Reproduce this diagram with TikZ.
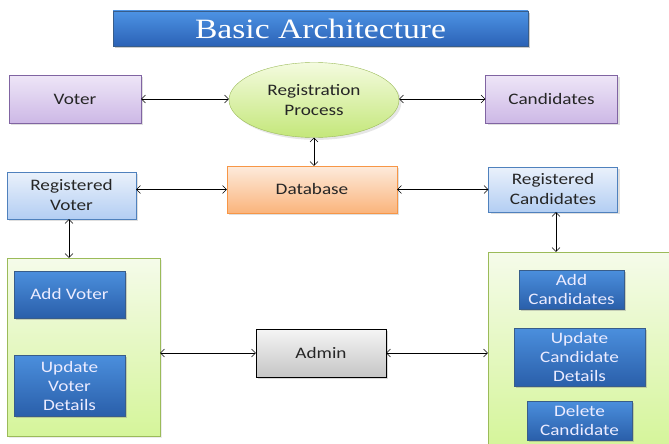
\documentclass[tikz,border=0pt]{standalone}
\usepackage{fontspec}
\setmainfont{Carlito}[FakeStretch=1.2]
\newfontfamily\titlefont{Liberation Serif}[FakeStretch=1.2]
\usetikzlibrary{arrows.meta,shapes.geometric,shadows}
\definecolor{pubord}{HTML}{8064A2}
\definecolor{putop}{HTML}{EEE6F7}
\definecolor{pubot}{HTML}{CDB8E6}
\definecolor{grbord}{HTML}{9BBB59}
\definecolor{eltop}{HTML}{F4FBDF}
\definecolor{elbot}{HTML}{C4E77A}
\definecolor{orbord}{HTML}{F79646}
\definecolor{ortop}{HTML}{FDEBDC}
\definecolor{orbot}{HTML}{FAB47C}
\definecolor{lbbord}{HTML}{4F81BD}
\definecolor{lbtop}{HTML}{EAF1FB}
\definecolor{lbbot}{HTML}{B3CEF3}
\definecolor{gptop}{HTML}{F5FBEA}
\definecolor{gpbot}{HTML}{D5F59A}
\definecolor{dbbord}{HTML}{385D8A}
\definecolor{dbtop}{HTML}{4B8FDD}
\definecolor{dbbot}{HTML}{2A5FAA}
\definecolor{titop}{HTML}{4D93E4}
\definecolor{tibot}{HTML}{2B62B6}
\tikzset{
  px/.style={x=1pt,y=-1pt},
  base/.style={font=\fontsize{16}{20}\selectfont, text=black!85, align=center, inner sep=0pt, draw},
  purple/.style={base, draw=pubord, top color=putop, bottom color=pubot, drop shadow={opacity=0.25}},
  lblue/.style={base, draw=lbbord, top color=lbtop, bottom color=lbbot, drop shadow={opacity=0.25}},
  orangebox/.style={base, draw=orbord, top color=ortop, bottom color=orbot, drop shadow={opacity=0.25}},
  graybox/.style={base, draw=black, top color=gray!8, bottom color=gray!45, drop shadow={opacity=0.3}},
  greenpanel/.style={base, draw=grbord, top color=gptop, bottom color=gpbot, drop shadow={opacity=0.15}},
  dblue/.style={base, draw=dbbord, top color=dbtop, bottom color=dbbot, text=white!92!blue, drop shadow={opacity=0.35}, font=\fontsize{16}{19}\selectfont},
  conn/.style={{Straight Barb[length=4pt,width=8pt]}-{Straight Barb[length=4pt,width=8pt]}, thin},
}
\begin{document}
\begin{tikzpicture}[px]
\useasboundingbox (0,0) rectangle (669,444);
% title
\node[base, draw=dbbord, top color=titop, bottom color=tibot, minimum width=415pt, minimum height=35pt, drop shadow={opacity=0.4}, text=white, font=\titlefont\fontsize{28}{30}\selectfont] (title) at (320.5,28.5) {Basic Architecture};
% row 1
\node[purple, minimum width=132pt, minimum height=48pt] (voter) at (75,99) {Voter};
\node[ellipse, base, draw=grbord, top color=eltop, bottom color=elbot, minimum width=170pt, minimum height=75pt, drop shadow={opacity=0.2}] (reg) at (314,100) {Registration\\Process};
\node[purple, minimum width=132pt, minimum height=48pt] (cand) at (551.5,99) {Candidates};
% row 2
\node[orangebox, minimum width=170pt, minimum height=47pt] (db) at (312,189.5) {Database};
\node[lblue, minimum width=129pt, minimum height=47pt] (rv) at (71.5,195.5) {Registered\\Voter};
\node[lblue, minimum width=129pt, minimum height=45pt] (rc) at (553,189.5) {Registered\\Candidates};
% panels
\node[greenpanel, minimum width=153pt, minimum height=178pt] (lp) at (83.5,347) {};
\node[greenpanel, minimum width=190pt, minimum height=194pt] (rp) at (583,349) {};
\node[dblue, minimum width=111pt, minimum height=47pt] (addv) at (69.5,294.5) {Add Voter};
\node[dblue, minimum width=111pt, minimum height=61pt] (updv) at (69.5,385.5) {Update\\Voter\\Details};
\node[dblue, minimum width=105pt, minimum height=39pt] (addc) at (571.5,289.5) {Add\\Candidates};
\node[dblue, minimum width=131pt, minimum height=58pt] (updc) at (579.5,357) {Update\\Candidate\\Details};
\node[dblue, minimum width=105pt, minimum height=39pt] (delc) at (579.5,420.5) {Delete\\Candidate};
\node[graybox, minimum width=130pt, minimum height=48pt] (admin) at (321,353) {Admin};
% connectors
\draw[conn] (voter.east) -- (reg.west |- voter.east);
\draw[conn] (reg.east |- cand.west) -- (cand.west);
\draw[conn] (reg.south) -- (db.north -| reg.south);
\draw[conn] (rv.east |- db.west) -- (db.west);
\draw[conn] (db.east) -- (rc.west |- db.east);
\draw[conn] (rv.south -| 69,0) -- (lp.north -| 69,0);
\draw[conn] (rc.south -| 556,0) -- (rp.north -| 556,0);
\draw[conn] (lp.east |- admin.west) -- (admin.west);
\draw[conn] (admin.east) -- (rp.west |- admin.east);
\end{tikzpicture}
\end{document}
